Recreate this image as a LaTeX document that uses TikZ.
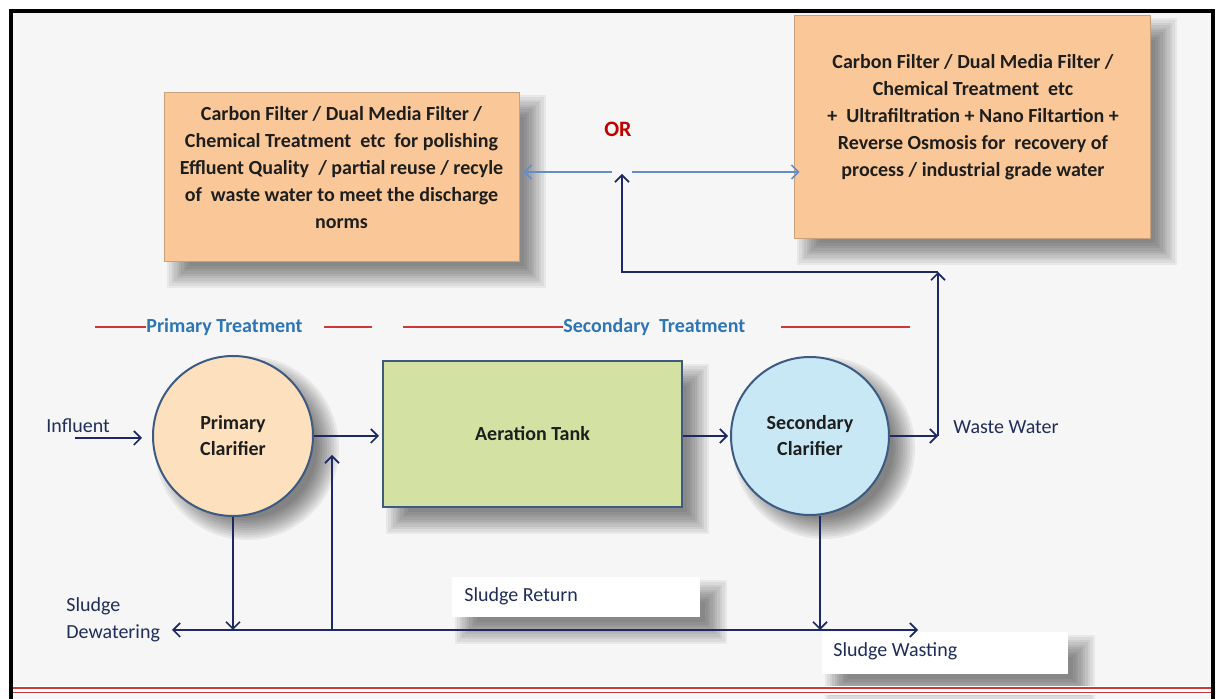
\documentclass[tikz,border=0pt]{standalone}
\usepackage{fontspec}
\setmainfont{Carlito}
\usetikzlibrary{arrows.meta}
\definecolor{boxorange}{RGB}{250,200,152}
\definecolor{tankgreen}{RGB}{211,226,163}
\definecolor{pcfill}{RGB}{253,225,190}
\definecolor{scfill}{RGB}{200,232,245}
\definecolor{edgeblue}{RGB}{60,90,130}
\definecolor{navy}{RGB}{30,40,100}
\definecolor{lightarrow}{RGB}{100,140,200}
\definecolor{redline}{RGB}{205,55,55}
\definecolor{ortext}{RGB}{192,0,0}
\definecolor{sectblue}{RGB}{46,117,182}
\definecolor{labelnavy}{RGB}{31,45,90}
\definecolor{boxtext}{RGB}{30,30,30}
\definecolor{bggray}{RGB}{246,246,246}
\newcommand\boxshadow[4]{\foreach \k in {0,...,9}{\fill[black,opacity=0.055] ({#1+3+\k*2.4},{#2+3+\k*2.4}) rectangle ({#3+27-\k*2.4},{#4+27-\k*2.4});}}
\newcommand\circshadow[3]{\foreach \k in {0,...,9}{\fill[black,opacity=0.06] ({#1+14},{#2+12}) circle[radius={#3+12-\k*2.4}];}}
\begin{document}
\begin{tikzpicture}[x=0.5pt,y=-0.5pt,
  obox/.style={fill=boxorange, draw=boxorange!80!black, line width=0.3pt, inner sep=0},
  btext/.style={font=\fontsize{10}{13.5}\selectfont\bfseries, text=boxtext, align=center, inner sep=0},
  clar/.style={circle, draw=edgeblue, line width=1pt, minimum size=80pt, inner sep=0, align=center, text=boxtext, font=\fontsize{10}{13}\selectfont\bfseries},
  tank/.style={rectangle, draw=edgeblue, line width=1pt, fill=tankgreen, minimum width=149.5pt, minimum height=73pt, inner sep=0, text=boxtext, font=\fontsize{10}{13}\selectfont\bfseries},
  sect/.style={text=sectblue, font=\fontsize{10}{12}\selectfont\bfseries, inner sep=0, anchor=west},
  lbl/.style={text=labelnavy, font=\fontsize{10}{13.5}\selectfont, inner sep=0, anchor=west, align=left},
  wbox/.style={fill=white, inner sep=0, anchor=north west},
  redrule/.style={draw=redline, line width=1pt},
  arr/.style={draw=navy, line width=0.85pt, -{Straight Barb[length=3.5pt,width=7pt,line width=0.85pt]}},
  larr/.style={draw=lightarrow, line width=0.85pt, -{Straight Barb[length=3.5pt,width=7pt,line width=0.85pt]}}]
\useasboundingbox (0,0) rectangle (1222,699);
\fill[white] (0,0) rectangle (1222,699);
\fill[bggray] (12,12) rectangle (1212,699);

% shadows
\boxshadow{164}{92}{519}{261}
\boxshadow{794}{15}{1150}{238}
\boxshadow{383}{361}{682}{507}
\circshadow{233}{436}{80}
\circshadow{810}{436}{79}
\boxshadow{452}{577}{700}{617}
\boxshadow{822}{632}{1068}{674}

% frame and bottom red double rule
\fill[white] (12,686) rectangle (1212,695);
\draw[redline, line width=0.7pt] (13,688) -- (1211,688);
\draw[redline, line width=0.7pt] (13,692.5) -- (1211,692.5);
\fill[white] (1214,0) rectangle (1222,699);
\draw[black, line width=1.6pt] (11,700) -- (11,11) -- (1213,11) -- (1213,700);

% filter boxes
\node[obox, minimum width=177.5pt, minimum height=84.5pt] (lbox) at (341.5,176.5) {};
\node[btext] (ltext) at (341.5,168) {Carbon Filter / Dual Media Filter /\\Chemical Treatment\ \ etc\ \ for polishing\\Effluent Quality\ \ / partial reuse / recyle\\of\ \ waste water to meet the discharge\\norms};
\node[obox, minimum width=178pt, minimum height=111.5pt] (rbox) at (972,126.5) {};
\node[btext] (rtext) at (973,117.5) {Carbon Filter / Dual Media Filter /\\Chemical Treatment\ \ etc\\+\ \ Ultrafiltration + Nano Filtartion +\\Reverse Osmosis for\ \ recovery of\\process / industrial grade water};
\node[text=ortext, font=\fontsize{11}{13}\selectfont\bfseries, inner sep=0] (or) at (618,129) {OR};

% section labels
\node[sect] (pt) at (146,327) {Primary Treatment};
\node[sect] (st) at (563,327) {Secondary\ \ Treatment};
\draw[redrule] (95,327) -- (pt.west);
\draw[redrule] (324,327) -- (372,327);
\draw[redrule] (403,327) -- (st.west);
\draw[redrule] (781,327) -- (910,327);

% process units
\node[clar, fill=pcfill] (pc) at (233,436) {Primary\\Clarifier};
\node[tank] (at) at (532.5,434) {Aeration Tank};
\node[clar, fill=scfill, minimum size=79pt] (sc) at (810,436) {Secondary\\Clarifier};

% labels
\node[lbl] (inflbl) at (46,426) {Influent};
\node[lbl] (wwlbl) at (953,427) {Waste Water};
\node[lbl] (dwlbl) at (66,620) {Sludge\\Dewatering};
\node[wbox, minimum width=124pt, minimum height=20pt] (srbox) at (452,577) {};
\node[lbl] (srlbl) at (464,596) {Sludge Return};
\node[wbox, minimum width=123pt, minimum height=21pt] (swbox) at (822,632) {};
\node[lbl] (swlbl) at (833,651) {Sludge Wasting};

% coordinates
\coordinate (inf) at (75,438);
\coordinate (wwj) at (938,436);
\coordinate (topj) at (938,272);
\coordinate (orj) at (622,174);
\coordinate (orl) at (612,172);
\coordinate (orr) at (632,172);
\coordinate (dwj) at (233,630);
\coordinate (wsj) at (820,630);
\coordinate (rj) at (332,630);
\coordinate (rt) at (332,455);
\coordinate (dwend) at (172,630);
\coordinate (wsend) at (918,630);

% main flow
\draw[arr, shorten >=5pt] (inf) -- (inf -| pc.west);
\draw[arr, shorten >=1.5pt] (pc.east) -- (at.west |- pc.east);
\draw[arr, shorten >=1pt] (at.east |- sc.west) -- (sc.west);
\draw[arr] (sc.east) -- (wwj);
\draw[arr] (wwj) -- (topj);
\draw[arr] (topj) -| (orj);
\draw[larr, shorten >=2pt] (orl) -- (orl -| lbox.east);
\draw[larr, shorten >=-3pt] (orr) -- (orr -| rbox.west);

% sludge lines
\draw[arr] (pc.south) -- (dwj);
\draw[arr] (wsj |- sc.south) -- (wsj);
\draw[arr] (rj) -- (rt);
\draw[arr, {Straight Barb[length=3.5pt,width=7pt,line width=0.85pt]}-{Straight Barb[length=3.5pt,width=7pt,line width=0.85pt]}] (dwend) -- (wsend);
\end{tikzpicture}
\end{document}
